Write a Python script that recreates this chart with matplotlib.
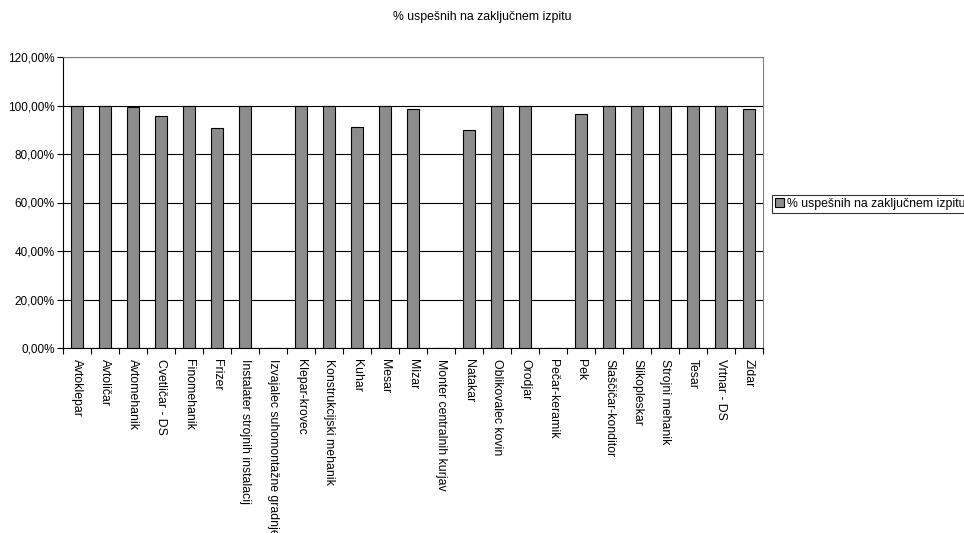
import matplotlib
matplotlib.use("Agg")
import matplotlib.pyplot as plt
import numpy as np
from matplotlib.ticker import FuncFormatter, MultipleLocator

categories = ["Avtoklepar", "Avtoličar", "Avtomehanik", "Cvetličar - DS", "Finomehanik",
              "Frizer", "Instalater strojnih instalacij", "Izvajalec suhomontažne gradnje",
              "Klepar-krovec", "Konstrukcijski mehanik", "Kuhar", "Mesar", "Mizar",
              "Monter centralnih kurjav", "Natakar", "Oblikovalec kovin", "Orodjar",
              "Pečar-keramik", "Pek", "Slaščičar-konditor", "Slikopleskar", "Strojni mehanik",
              "Tesar", "Vrtnar - DS", "Zidar"]
values = [100.0, 100.0, 99.5, 95.6, 100.0, 90.8, 100.0, 0.0, 100.0, 100.0, 91.3, 100.0, 98.4,
          0.0, 89.8, 100.0, 100.0, 0.0, 96.5, 100.0, 100.0, 100.0, 100.0, 100.0, 98.4]
series_name = "% uspešnih na zaključnem izpitu"

plt.rcParams['font.family'] = ['Liberation Sans', 'DejaVu Sans']

fig = plt.figure(figsize=(9.64, 5.33), dpi=100)
ax = fig.add_axes([63/964, 1-348/533, 700/964, 291/533])

x = np.arange(len(categories))
ax.bar(x, values, width=0.42, color='#8c8c8c', edgecolor='black', linewidth=0.8,
       label=series_name, zorder=3)

ax.set_xlim(-0.5, len(categories) - 0.5)
ax.set_ylim(0, 120)
ax.yaxis.set_major_locator(MultipleLocator(20))
ax.yaxis.set_major_formatter(FuncFormatter(lambda v, p: f"{v:.2f}%".replace('.', ',')))
ax.grid(axis='y', color='black', linewidth=0.8, zorder=0)

# x ticks between categories
ax.set_xticks(np.arange(-0.5, len(categories), 1.0), minor=False)
ax.set_xticklabels([])
ax.set_xticks(x, minor=True)
ax.set_xticklabels(categories, minor=True, rotation=-90, ha='center', va='top', fontsize=8.8)
ax.tick_params(axis='x', which='major', length=4, width=0.8, direction='out')
ax.tick_params(axis='x', which='minor', length=0, pad=8)
ax.tick_params(axis='y', length=4, width=0.8, labelsize=8.5, pad=2)

for s in ['top', 'right']:
    ax.spines[s].set_color('#808080')
    ax.spines[s].set_linewidth(0.8)
for s in ['left', 'bottom']:
    ax.spines[s].set_color('black')
    ax.spines[s].set_linewidth(0.8)

fig.text(0.5, 1 - 17/533, series_name, ha='center', va='center', fontsize=8.8)

leg = fig.legend(loc='center left', bbox_to_anchor=(772/964, 1 - 204/533), fontsize=8.8,
                 frameon=True, fancybox=False, edgecolor='black', handlelength=0.7,
                 handleheight=0.7, handletextpad=0.25, borderpad=0.25, borderaxespad=0)
leg.get_frame().set_linewidth(0.8)

fig.savefig("out.png", dpi=100)
